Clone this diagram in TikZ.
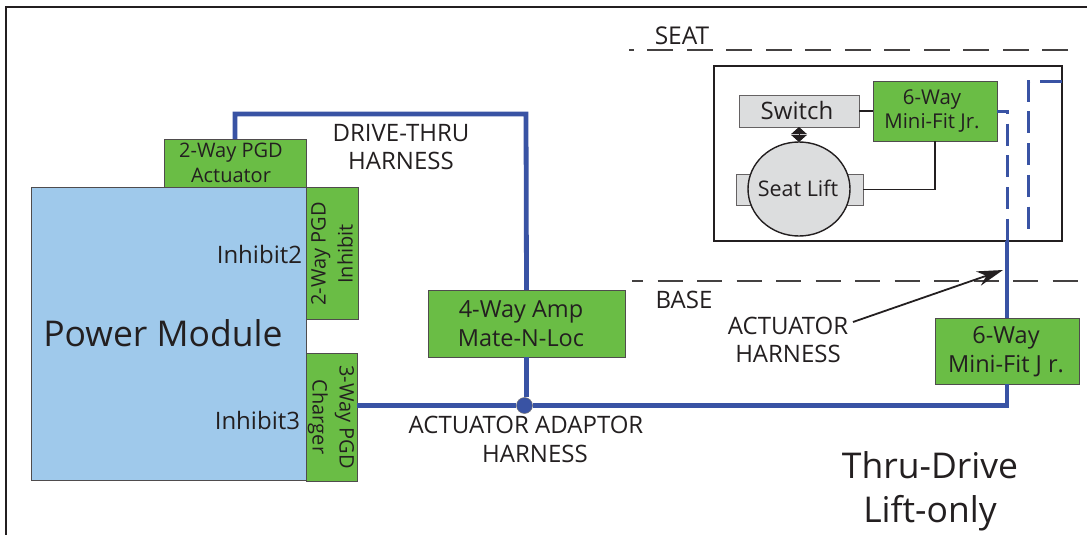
\documentclass[tikz,border=0pt]{standalone}
\usepackage{fontspec}
\setmainfont{Open Sans}
\usepackage{xcolor}
\usetikzlibrary{arrows.meta, shapes.geometric}
\definecolor{plugreen}{HTML}{6ABD45}
\definecolor{wireblue}{HTML}{3953A4}
\definecolor{modulblue}{HTML}{9FC9EB}
\definecolor{partgray}{HTML}{DCDDDE}
\definecolor{inkdark}{HTML}{231F20}
\tikzset{
  plugbox/.style={draw=inkdark!80, fill=plugreen, line width=0.9pt, inner sep=0pt, outer sep=0pt},
  partbox/.style={draw=inkdark!70, fill=partgray, line width=0.9pt, inner sep=0pt, outer sep=0pt},
  wire/.style={draw=wireblue, line width=4.8pt},
  wiredash/.style={draw=wireblue, line width=3pt, dash pattern=on 22pt off 9.7pt},
  thinwire/.style={draw=inkdark, line width=1.4pt},
  levelline/.style={draw=inkdark!85, line width=1.3pt},
  lbl/.style={text=inkdark, inner sep=0pt, outer sep=0pt, align=center},
  fs/.style n args={2}{font=\fontsize{#1}{#2}\selectfont}
}
\begin{document}
\begin{tikzpicture}[x=1pt, y=-1pt]
    \useasboundingbox (0,0) rectangle (1087,535);
    \draw[inkdark, line width=1.4pt] (6,535) -- (6,7) -- (1087,7);

    % base unit
    \node[plugbox, minimum width=142pt, minimum height=48pt] (actuatorplug) at (235,163) {};
    \node[lbl, fs={20}{25}] (actuatortext) at (231,162.5) {2-Way PGD\\Actuator};
    \node[plugbox, minimum width=52pt, minimum height=132pt] (inhibitplug) at (332,253) {};
    \node[lbl, fs={20}{27}, rotate=90] (inhibittext) at (332,254) {2-Way PGD\\Inhibit};
    \node[plugbox, minimum width=51pt, minimum height=128pt] (chargerplug) at (331.5,417) {};
    \node[lbl, fs={20}{27}, rotate=-90] (chargertext) at (331,417) {3-Way PGD\\Charger};
    \node[draw=inkdark!80, fill=modulblue, line width=0.9pt, inner sep=0pt, minimum width=275pt, minimum height=293pt] (powermodule) at (168.5,333.5) {};
    \node[lbl, fs={35.5}{40}] (powertext) at (163,333) {Power Module};
    \node[lbl, fs={24}{28}, anchor=east] (inhibittwo) at (302,254) {Inhibit2};
    \node[lbl, fs={24}{28}, anchor=east] (inhibitthree) at (300,420) {Inhibit3};
    \node[plugbox, minimum width=197pt, minimum height=67pt] (ampplug) at (526.5,323.5) {};
    \node[lbl, fs={23.5}{29}] (amptext) at (521,324) {4-Way Amp\\Mate-N-Loc};
    \node[plugbox, minimum width=144pt, minimum height=66pt] (lowerplug) at (1007,351) {};
    \node[lbl, fs={23.5}{29}] (lowertext) at (1006,352) {6-Way\\Mini-Fit J r.};

    % seat unit
    \node[draw=inkdark, fill=white, line width=1.4pt, inner sep=0pt, outer sep=0pt, minimum width=348pt, minimum height=175pt] (seatbox) at (888,153.5) {};
    \node[partbox, minimum width=120pt, minimum height=32pt] (switch) at (799,111) {};
    \node[lbl, fs={24}{28}] (switchtext) at (797,110) {Switch};
    \node[plugbox, minimum width=124pt, minimum height=60pt] (seatplug) at (935,111) {};
    \node[lbl, fs={20.4}{24}] (seatplugtext) at (932,111) {6-Way\\Mini-Fit Jr.};
    \node[partbox, minimum width=127pt, minimum height=31pt] (liftbody) at (799.5,189.5) {};
    \node[ellipse, draw=inkdark, fill=partgray, line width=1.4pt, inner sep=0pt, outer sep=0pt, minimum width=102pt, minimum height=94pt] (seatlift) at (799,189) {};
    \node[lbl, fs={21.5}{24}] (lifttext) at (798,188) {Seat Lift};

    \draw[thinwire] (switch.east) -- (seatplug.west);
    \draw[thinwire] (seatplug.south) |- (liftbody.east);
    \draw[inkdark, line width=0.8pt, {Triangle[length=7.2pt,width=16pt]}-{Triangle[length=7.2pt,width=16pt]}] (switch.south) -- (seatlift.north);

    % harnesses
    \coordinate (drivecorner) at (526,114);
    \node[circle, fill=wireblue, draw=inkdark!60, line width=0.5pt, inner sep=0pt, minimum size=16pt] (junction) at (524.5,405.5) {};
    \draw[wire] (actuatorplug.north) |- (drivecorner) -- (ampplug.north);
    \draw[wire] (ampplug.south) -- (ampplug.south |- junction.north);
    \draw[wire] (chargerplug.east |- junction) -- (junction.west);
    \draw[wire] (junction.east) -| (lowerplug.south);
    \draw[wire] (lowerplug.north) -- (lowerplug.north |- seatbox.south);
    \draw[wiredash, dash phase=9pt] (seatplug.east) -| (seatbox.south -| lowerplug.north);
    \coordinate (dashstart) at (1062,82);
    \coordinate (dashbend) at (1028,82);
    \coordinate (dashend) at (1028,232);
    \draw[wiredash] (dashstart) -- (dashbend) -- (dashend);

    % seat and base levels
    \coordinate (seatleft) at (629,50);
    \coordinate (seatright) at (1068,50);
    \draw[levelline, line width=1.6pt, dash pattern=on 26pt off 13.5pt] (seatright) -- (seatleft);
    \coordinate (baseleft) at (632,281);
    \coordinate (baseright) at (1080,281);
    \draw[levelline, dash pattern=on 25pt off 14.5pt, dash phase=14pt] (baseleft) -- (baseright);
    \node[lbl, fs={24.5}{28}] (seatlabel) at (682,36) {SEAT};
    \node[lbl, fs={24}{28}] (baselabel) at (684,300) {BASE};

    % harness labels
    \node[lbl, fs={24}{28}] (drivelabel) at (401,147) {DRIVE-THRU\\HARNESS};
    \node[lbl, fs={24}{29}] (adaptorlabel) at (526,439.5) {ACTUATOR ADAPTOR\\\hspace*{18pt}HARNESS};
    \node[lbl, fs={24}{28}] (actuatorlabel) at (788,340) {ACTUATOR\\HARNESS};
    \coordinate (arrowstart) at (853,322);
    \coordinate (arrowend) at (1003,270);
    \draw[line width=1.8pt, inkdark, -{Stealth[length=26pt,width=15pt]}] (arrowstart) -- (arrowend);

    \node[lbl, fs={35.5}{44}] (titlelabel) at (930,491.5) {Thru-Drive\\Lift-only};
  \end{tikzpicture}
\end{document}
